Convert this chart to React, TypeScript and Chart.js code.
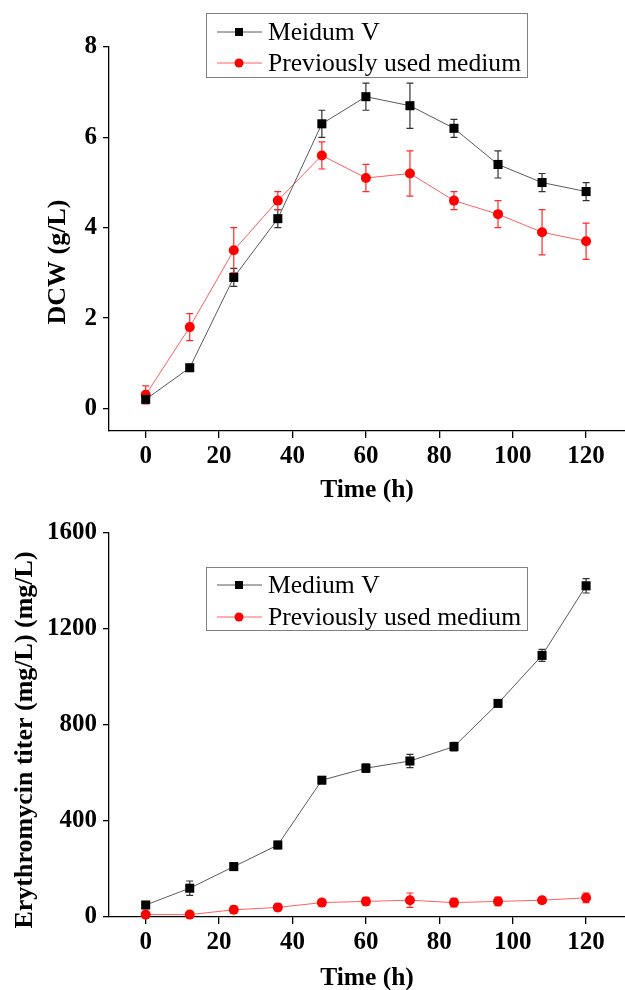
import React, { useEffect, useRef } from "react";
import { Chart, registerables } from "chart.js";
Chart.register(...registerables);

// ---------- data ----------
const times = [0, 12, 24, 36, 48, 60, 72, 84, 96, 108, 120];
const xTicks = [0, 20, 40, 60, 80, 100, 120];

const dcwMediumV = [0.2, 0.9, 2.9, 4.2, 6.3, 6.9, 6.7, 6.2, 5.4, 5.0, 4.8];
const dcwMediumVErr = [0.05, 0.06, 0.2, 0.2, 0.3, 0.3, 0.5, 0.2, 0.3, 0.2, 0.2];
const dcwPrevious = [0.3, 1.8, 3.5, 4.6, 5.6, 5.1, 5.2, 4.6, 4.3, 3.9, 3.7];
const dcwPreviousErr = [0.2, 0.3, 0.5, 0.2, 0.3, 0.3, 0.5, 0.2, 0.3, 0.5, 0.4];
const dcwTicks = [0, 2, 4, 6, 8];

const titerMediumV = [50, 120, 210, 300, 570, 620, 650, 710, 890, 1090, 1380];
const titerMediumVErr = [10, 30, 15, 15, 8, 18, 28, 18, 12, 25, 30];
const titerPrevious = [10, 10, 30, 40, 60, 65, 70, 60, 65, 70, 80];
const titerPreviousErr = [8, 5, 15, 15, 12, 17, 30, 18, 18, 12, 20];
const titerTicks = [0, 400, 800, 1200, 1600];

const topLegend = ["Meidum V", "Previously used medium"];
const bottomLegend = ["Medium V", "Previously used medium"];
const xTitle = "Time (h)";
const dcwTitle = "DCW (g/L)";
const titerTitle = "Erythromycin titer (mg/L) (mg/L)";

// ---------- styles ----------
const SERIF = '"Liberation Serif", "Times New Roman", serif';
const BLACK_LINE = "#5a5a5a";
const BLACK_ERR = "#333333";
const RED_LINE = "#ff6060";
const RED_ERR = "#ff2a2a";

const toPoints = (vals: number[]) => vals.map((v, i) => ({ x: times[i], y: v }));

const errorBarPlugin = {
  id: "errorBars",
  beforeDatasetsDraw(chart: any) {
    const ctx = chart.ctx;
    const ys = chart.scales.y;
    chart.data.datasets.forEach((ds: any, i: number) => {
      const errs = ds.errors as number[];
      if (!errs) return;
      const meta = chart.getDatasetMeta(i);
      ctx.save();
      ctx.strokeStyle = ds.errorColor;
      ctx.lineWidth = 1.2;
      meta.data.forEach((pt: any, j: number) => {
        const v = ds.data[j].y;
        const e = errs[j];
        const x = pt.x;
        const y1 = ys.getPixelForValue(v + e);
        const y2 = ys.getPixelForValue(v - e);
        ctx.beginPath();
        ctx.moveTo(x, y1);
        ctx.lineTo(x, y2);
        ctx.moveTo(x - 3.5, y1);
        ctx.lineTo(x + 3.5, y1);
        ctx.moveTo(x - 3.5, y2);
        ctx.lineTo(x + 3.5, y2);
        ctx.stroke();
      });
      ctx.restore();
    });
  },
};

type Extra = {
  legend: string[];
  legendBox: { x: number; y: number; w: number; h: number; rows: number[] };
  yTitle: string;
  yTitlePos: { x: number; y: number };
  xTitlePos: { x: number; y: number };
};

const makeDecorPlugin = (ex: Extra) => ({
  id: "decor",
  afterDraw(chart: any) {
    const ctx = chart.ctx;
    ctx.save();
    // axis titles
    ctx.fillStyle = "#000";
    ctx.textAlign = "center";
    ctx.textBaseline = "middle";
    ctx.font = `bold 25.5px ${SERIF}`;
    ctx.fillText(xTitle, ex.xTitlePos.x, ex.xTitlePos.y);
    ctx.save();
    ctx.translate(ex.yTitlePos.x, ex.yTitlePos.y);
    ctx.rotate(-Math.PI / 2);
    ctx.font = `bold 26px ${SERIF}`;
    ctx.fillText(ex.yTitle, 0, 0);
    ctx.restore();
    // legend box
    const b = ex.legendBox;
    ctx.strokeStyle = "#808080";
    ctx.lineWidth = 1;
    ctx.strokeRect(b.x + 0.5, b.y + 0.5, b.w, b.h);
    const styles = [
      { line: BLACK_LINE, fill: "#000", shape: "rect" },
      { line: RED_LINE, fill: "#ff0000", shape: "circle" },
    ];
    ex.legend.forEach((label, i) => {
      const y = b.rows[i];
      const st = styles[i];
      ctx.strokeStyle = st.line;
      ctx.lineWidth = 1;
      ctx.beginPath();
      ctx.moveTo(b.x + 11, y);
      ctx.lineTo(b.x + 56, y);
      ctx.stroke();
      ctx.fillStyle = st.fill;
      const cx = b.x + 33;
      if (st.shape === "rect") {
        ctx.fillRect(cx - 4, y - 4, 8, 8);
      } else {
        ctx.beginPath();
        ctx.arc(cx, y, 4.5, 0, Math.PI * 2);
        ctx.fill();
      }
      ctx.fillStyle = "#000";
      ctx.font = `25.6px ${SERIF}`;
      ctx.textAlign = "left";
      ctx.textBaseline = "middle";
      ctx.fillText(label, b.x + 62, y + 1);
    });
    ctx.restore();
  },
});

function makeConfig(
  blackVals: number[],
  blackErr: number[],
  redVals: number[],
  redErr: number[],
  yMin: number,
  yMax: number,
  yTicks: number[],
  padTop: number,
  xHeight: number,
  ex: Extra
): any {
  const tickFont = { family: SERIF, size: 25, weight: "bold" as const };
  return {
    type: "line",
    data: {
      datasets: [
        {
          label: ex.legend[0],
          data: toPoints(blackVals),
          errors: blackErr,
          errorColor: BLACK_ERR,
          borderColor: BLACK_LINE,
          borderWidth: 1,
          pointStyle: "rect",
          pointRadius: 6.4,
          pointBackgroundColor: "#000",
          pointBorderColor: "#000",
          pointBorderWidth: 0,
          clip: false,
          order: 1,
        },
        {
          label: ex.legend[1],
          data: toPoints(redVals),
          errors: redErr,
          errorColor: RED_ERR,
          borderColor: RED_LINE,
          borderWidth: 1,
          pointStyle: "circle",
          pointRadius: 5,
          pointBackgroundColor: "#ff0000",
          pointBorderColor: "#ff0000",
          pointBorderWidth: 0,
          clip: false,
          order: 2,
        },
      ],
    },
    options: {
      animation: false,
      responsive: false,
      layout: { autoPadding: false, padding: { left: 0, top: padTop, right: 0, bottom: 0 } },
      plugins: { legend: { display: false }, tooltip: { enabled: false } },
      scales: {
        x: {
          type: "linear",
          min: -10,
          max: 130.6,
          afterBuildTicks: (s: any) => {
            s.ticks = xTicks.map((v) => ({ value: v }));
          },
          afterFit: (s: any) => {
            s.height = xHeight;
            s.paddingLeft = 0;
            s.paddingRight = 0;
          },
          grid: {
            display: true,
            drawOnChartArea: false,
            drawTicks: true,
            tickLength: 7,
            color: "#000",
            lineWidth: 1.3,
          },
          border: { display: true, color: "#000", width: 1.3 },
          ticks: {
            color: "#000",
            font: tickFont,
            padding: 4,
            maxRotation: 0,
            autoSkip: false,
            callback: (v: any) => String(v),
          },
        },
        y: {
          type: "linear",
          min: yMin,
          max: yMax,
          afterBuildTicks: (s: any) => {
            s.ticks = yTicks.map((v) => ({ value: v }));
          },
          afterFit: (s: any) => {
            s.width = 109;
            s.paddingTop = 0;
            s.paddingBottom = 0;
          },
          grid: {
            display: true,
            drawOnChartArea: false,
            drawTicks: true,
            tickLength: 6,
            color: "#000",
            lineWidth: 1.3,
          },
          border: { display: true, color: "#000", width: 1.3 },
          ticks: {
            color: "#000",
            font: tickFont,
            padding: 6,
            autoSkip: false,
            callback: (v: any) => String(v),
          },
        },
      },
    },
    plugins: [errorBarPlugin, makeDecorPlugin(ex)],
  };
}

function ChartCanvas({ config, height, top }: { config: any; height: number; top: number }) {
  const ref = useRef<HTMLCanvasElement>(null);
  useEffect(() => {
    if (!ref.current) return;
    const chart = new Chart(ref.current, config);
    return () => chart.destroy();
  }, [config]);
  return (
    <canvas
      ref={ref}
      width={625}
      height={height}
      style={{ position: "absolute", left: 0, top, width: 625, height }}
    />
  );
}

const topConfig = makeConfig(
  dcwMediumV,
  dcwMediumVErr,
  dcwPrevious,
  dcwPreviousErr,
  -0.5,
  8,
  dcwTicks,
  47,
  79,
  {
    legend: topLegend,
    legendBox: { x: 206, y: 13, w: 321, h: 64, rows: [32, 63] },
    yTitle: dcwTitle,
    yTitlePos: { x: 58, y: 262 },
    xTitlePos: { x: 367, y: 490 },
  }
);

const bottomConfig = makeConfig(
  titerMediumV,
  titerMediumVErr,
  titerPrevious,
  titerPreviousErr,
  0,
  1600,
  titerTicks,
  23,
  73,
  {
    legend: bottomLegend,
    legendBox: { x: 206, y: 57, w: 321, h: 63, rows: [75, 107] },
    yTitle: titerTitle,
    yTitlePos: { x: 25, y: 230 },
    xTitlePos: { x: 367, y: 468 },
  }
);

export default function App() {
  return (
    <div
      style={{
        position: "fixed",
        left: 0,
        top: 0,
        width: 625,
        height: 990,
        overflow: "hidden",
        background: "#fff",
      }}
    >
      <ChartCanvas config={topConfig} height={510} top={0} />
      <ChartCanvas config={bottomConfig} height={480} top={510} />
    </div>
  );
}
